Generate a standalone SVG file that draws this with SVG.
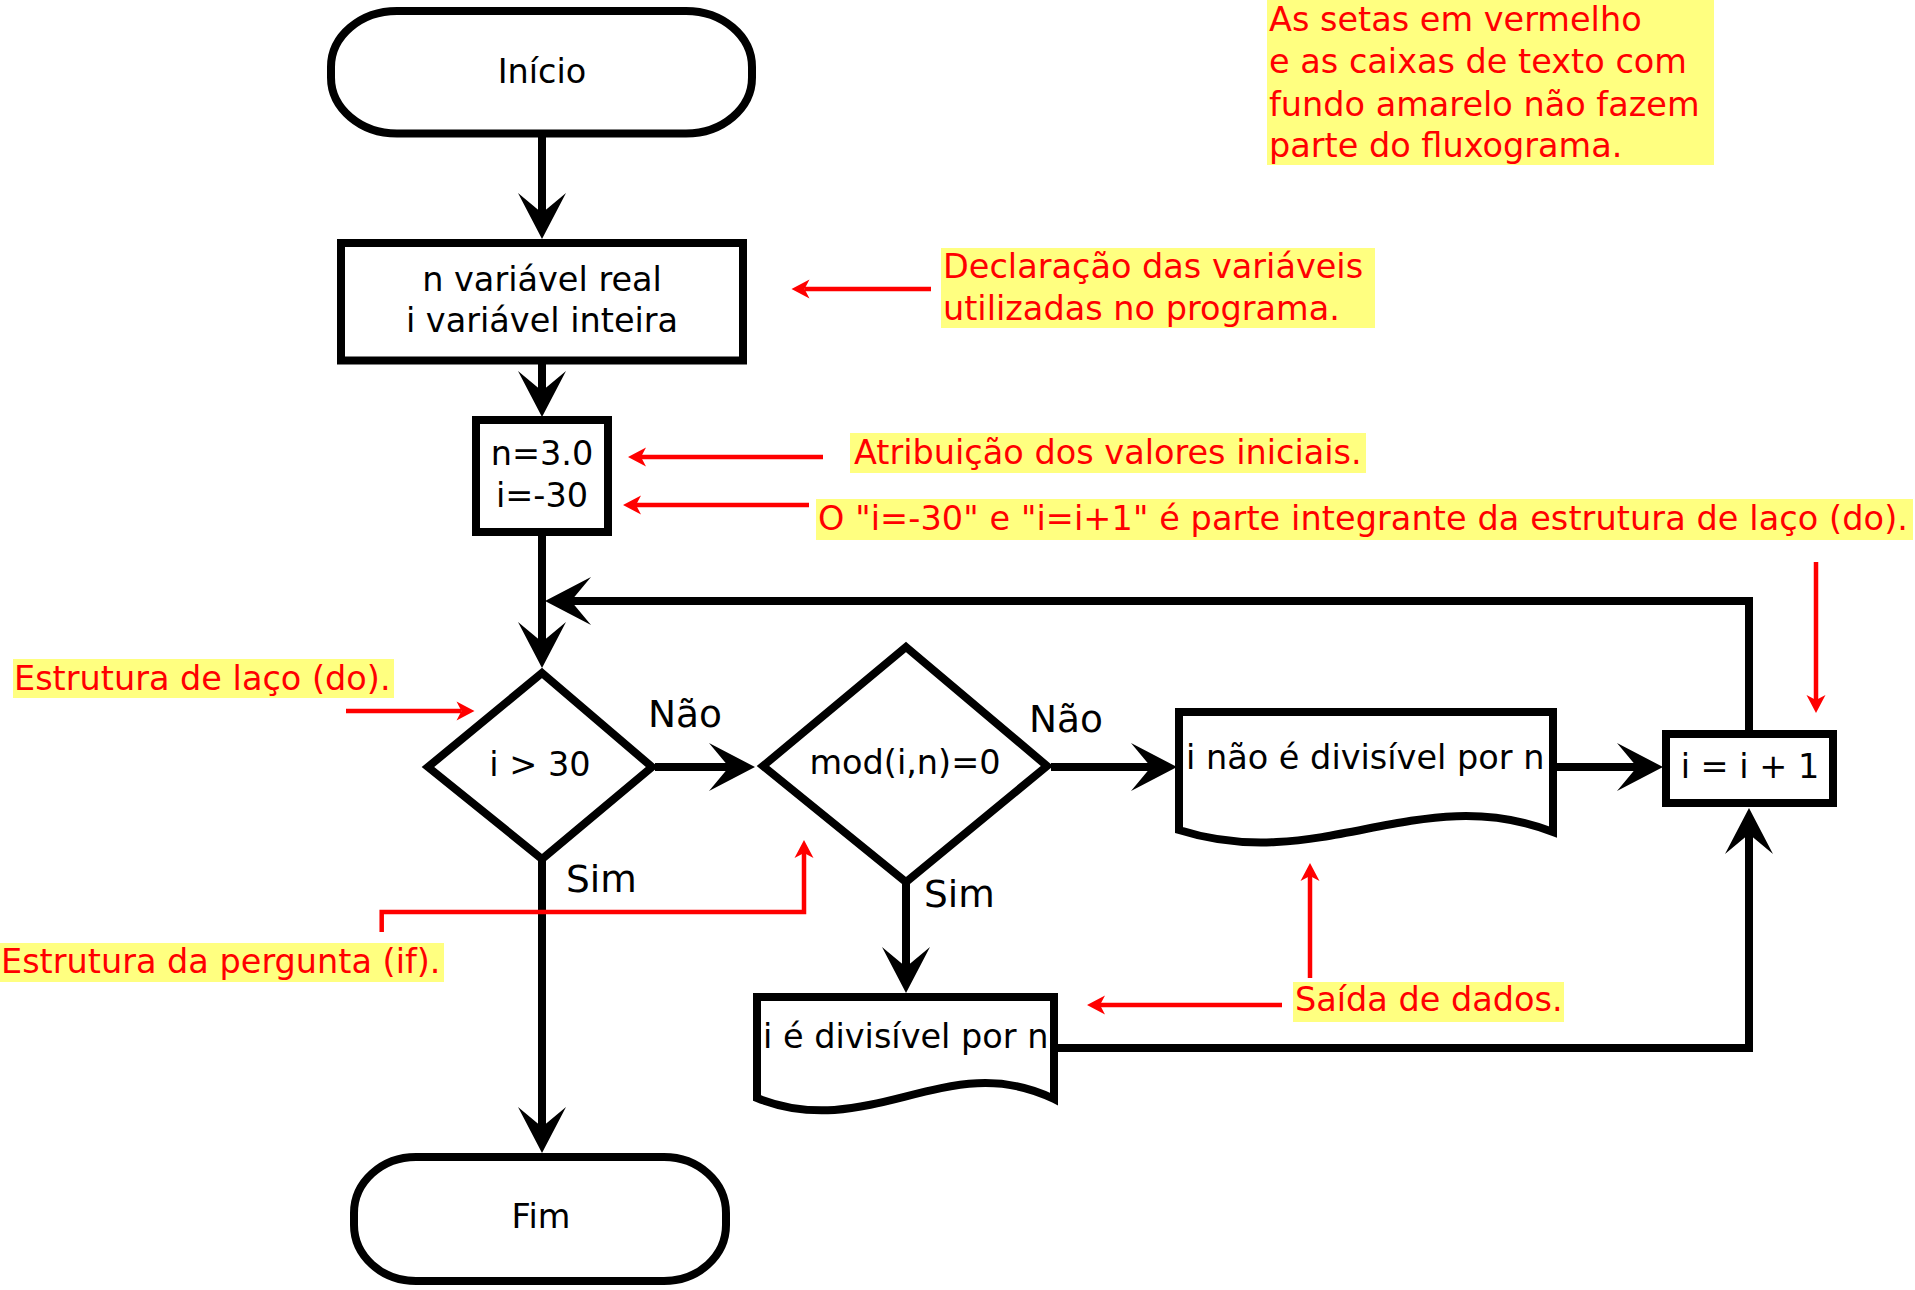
<svg xmlns="http://www.w3.org/2000/svg" width="1915" height="1290" viewBox="0 0 1915 1290">
<style>
.shape{fill:#fff;stroke:#000;stroke-width:8;stroke-linejoin:miter}
.t{font-family:"DejaVu Sans","Liberation Sans",sans-serif;font-size:33.5px;fill:#000}
.c{text-anchor:middle}
.lbl{font-family:"DejaVu Sans","Liberation Sans",sans-serif;font-size:37.5px;fill:#000}
.conn{fill:none;stroke:#000;stroke-width:8}
.rc{fill:none;stroke:#f00;stroke-width:4.5}
.note{font-family:"DejaVu Sans","Liberation Sans",sans-serif;font-size:33.5px;fill:#f00}
.hl{fill:#ffff80}
</style>
<defs>
<marker id="ah" markerUnits="userSpaceOnUse" orient="auto" overflow="visible" refX="0" refY="0" markerWidth="1" markerHeight="1">
<path d="M26,0 L-20,-24 L0,0 L-20,24 Z" fill="#000"/>
</marker>
<marker id="rh" markerUnits="userSpaceOnUse" orient="auto" overflow="visible" refX="0" refY="0" markerWidth="1" markerHeight="1">
<path d="M13,0 L-5,-9.5 L0,0 L-5,9.5 Z" fill="#f00"/>
</marker>
</defs>
<rect width="1915" height="1290" fill="#fff"/>

<g id="annotations">
<rect class="hl" x="1267" y="0" width="447" height="165"/>
<text class="note" x="1269" y="31">As setas em vermelho</text>
<text class="note" x="1269" y="73">e as caixas de texto com</text>
<text class="note" x="1269" y="116">fundo amarelo não fazem</text>
<text class="note" x="1269" y="157">parte do fluxograma.</text>
<rect class="hl" x="941" y="248" width="434" height="80"/>
<text class="note" x="943" y="278">Declaração das variáveis</text>
<text class="note" x="943" y="320">utilizadas no programa.</text>
<rect class="hl" x="850" y="433" width="516" height="40"/>
<text class="note" x="854" y="464">Atribuição dos valores iniciais.</text>
<rect class="hl" x="816" y="499" width="1097" height="41"/>
<text class="note" x="818" y="530" textLength="1090" lengthAdjust="spacing">O "i=-30" e "i=i+1" é parte integrante da estrutura de laço (do).</text>
<rect class="hl" x="13" y="659" width="381" height="39"/>
<text class="note" x="14" y="690">Estrutura de laço (do).</text>
<rect class="hl" x="0" y="943" width="444" height="39"/>
<text class="note" x="1" y="973">Estrutura da pergunta (if).</text>
<rect class="hl" x="1293" y="982" width="271" height="40"/>
<text class="note" x="1295" y="1011">Saída de dados.</text>
</g>

<g id="connectors">
<path class="conn" d="M542,133 V213" marker-end="url(#ah)"/>
<path class="conn" d="M542,364 V391" marker-end="url(#ah)"/>
<path class="conn" d="M542,536 V642" marker-end="url(#ah)"/>
<path class="conn" d="M1749,730 V601 H571" marker-end="url(#ah)"/>
<path class="conn" d="M655,767 H729" marker-end="url(#ah)"/>
<path class="conn" d="M1051,767 H1151" marker-end="url(#ah)"/>
<path class="conn" d="M1557,767 H1637" marker-end="url(#ah)"/>
<path class="conn" d="M542,859 V1127" marker-end="url(#ah)"/>
<path class="conn" d="M906,882 V967" marker-end="url(#ah)"/>
<path class="conn" d="M1058,1048 H1749 V834" marker-end="url(#ah)"/>
<text class="lbl" x="648" y="727">Não</text>
<text class="lbl" x="566" y="892">Sim</text>
<text class="lbl" x="1029" y="732">Não</text>
<text class="lbl" x="924" y="907">Sim</text>
</g>

<g id="red-arrows">
<path class="rc" d="M931,289 H804.5" marker-end="url(#rh)"/>
<path class="rc" d="M823,457 H641" marker-end="url(#rh)"/>
<path class="rc" d="M809,505 H636" marker-end="url(#rh)"/>
<path class="rc" d="M346,711 H461.5" marker-end="url(#rh)"/>
<path class="rc" d="M381.7,932 V912 H804 V853" marker-end="url(#rh)"/>
<path class="rc" d="M1816,562 V700" marker-end="url(#rh)"/>
<path class="rc" d="M1310,978 V876" marker-end="url(#rh)"/>
<path class="rc" d="M1282,1005 H1100" marker-end="url(#rh)"/>
</g>

<g id="inicio">
<rect class="shape" x="331" y="11" width="421" height="122.5" rx="66" ry="56"/>
<text class="t c" x="542" y="83">Início</text>
</g>
<g id="declaracao">
<rect class="shape" x="341" y="243" width="402" height="117.5"/>
<text class="t c" x="542" y="291">n variável real</text>
<text class="t c" x="542" y="332">i variável inteira</text>
</g>
<g id="atribuicao">
<rect class="shape" x="476" y="420" width="132" height="112"/>
<text class="t c" x="542" y="465">n=3.0</text>
<text class="t c" x="542" y="507">i=-30</text>
</g>
<g id="decisao1">
<polygon class="shape" points="542,673 652,767 542,859 428,767"/>
<text class="t c" x="540" y="776">i &gt; 30</text>
</g>
<g id="decisao2">
<polygon class="shape" points="906,647 1047,766 906,882 763,766"/>
<text class="t c" x="905" y="774">mod(i,n)=0</text>
</g>
<g id="saida-nao">
<path class="shape" d="M1179,712 H1553 V832 C1420,780 1320,875 1179,830 Z"/>
<text class="t" x="1186" y="769">i não é divisível por n</text>
</g>
<g id="incremento">
<rect class="shape" x="1666" y="734" width="167" height="69"/>
<text class="t c" x="1750" y="778">i = i + 1</text>
</g>
<g id="saida-sim">
<path class="shape" d="M757,997 H1054 V1099 C948,1047 869,1143 757,1098 Z"/>
<text class="t" x="763" y="1048">i é divisível por n</text>
</g>
<g id="fim">
<rect class="shape" x="354" y="1157" width="372" height="124" rx="62" ry="56"/>
<text class="t c" x="541" y="1228">Fim</text>
</g>
</svg>
